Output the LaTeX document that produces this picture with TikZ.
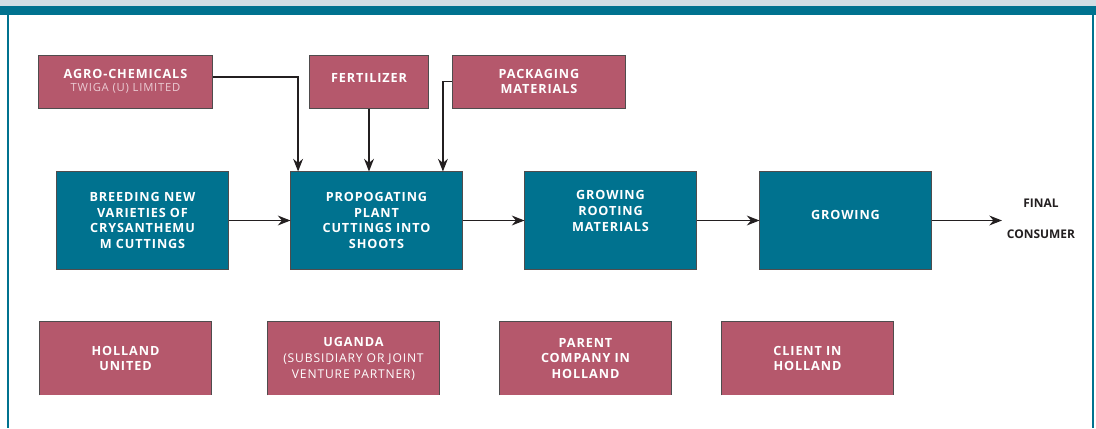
\documentclass[tikz,border=0pt]{standalone}
\usepackage{fontspec}
\setmainfont{Open Sans}
\newfontfamily\boxfont[LetterSpace=7]{Open Sans}
\usetikzlibrary{arrows.meta, positioning}
\definecolor{flowteal}{HTML}{00728F}
\definecolor{flowrose}{HTML}{B5586C}
\definecolor{flowpale}{HTML}{EBCBD3}
\definecolor{flowmist}{HTML}{D2DEE4}
\definecolor{flowink}{HTML}{231F20}
\newcommand{\subtext}{\mdseries\fontsize{8}{11.3}\selectfont}

\begin{document}
\begin{tikzpicture}[
  x=0.025cm, y=-0.025cm,
  every node/.style={font=\boxfont\bfseries\fontsize{9}{11.3}\selectfont},
  stage/.style={rectangle, draw=flowink!80, line width=0.7pt, fill=flowteal,
                text=white, minimum width=4.275cm, minimum height=2.425cm,
                align=center, inner sep=0pt},
  input/.style={rectangle, draw=flowink!80, line width=0.7pt, fill=flowrose,
                text=white, minimum height=1.325cm, align=center, inner sep=0pt},
  party/.style={rectangle, fill=flowrose,
                text=white, minimum width=4.275cm, minimum height=1.825cm,
                align=center, inner sep=0pt},
  rim/.style={draw=flowink!80, line width=0.7pt},
  arrow/.style={-{Stealth[length=9pt, width=7pt]}, line width=1pt, flowink}
]
  \useasboundingbox (0,0) rectangle (1096,428);

  % Frame: header band and side rules
  \fill[flowmist] (0,0) rectangle (1096,6);
  \fill[flowteal] (0,6) rectangle (1096,15);
  \draw[flowteal, line width=1pt] (8,15) -- (8,428);
  \draw[flowteal, line width=1pt] (1093,15) -- (1093,428);

  % Inputs (top row)
  \node[input, minimum width=4.325cm] (agro) at (125.5,81.5)
    {AGRO-CHEMICALS\\[-2pt]{\color{flowpale}\subtext TWIGA (U) LIMITED}};
  \node[input, minimum width=2.95cm] (fert) at (369,81.5)
    {FERTILIZER\\[-6pt]};
  \node[input, minimum width=4.3cm] (pack) at (539,81.5)
    {PACKAGING\\MATERIALS};

  % Main flow (left to right)
  \node[stage] (breed) at (142.5,220.5)
    {BREEDING NEW\\VARIETIES OF\\CRYSANTHEMU\\M CUTTINGS};
  \node[stage] (prop) at (376.5,220.5)
    {PROPOGATING\\PLANT\\CUTTINGS INTO\\SHOOTS};
  \node[stage] (root) at (610.5,220.5)
    {GROWING\\ROOTING\\MATERIALS\\[2pt]};
  \node[stage] (grow) at (845.5,220.5)
    {GROWING\\[-3.5pt]};
  \node[align=center, text=flowink, font=\bfseries\fontsize{8.5}{9}\selectfont]
    (consumer) at (1041,219) {FINAL\\[13pt]CONSUMER};

  % Parties (bottom row), open at the bottom edge
  \node[party] (holland) at (125.5,358.5) {HOLLAND\\UNITED};
  \node[party] (uganda) at (353.5,358.5)
    {UGANDA\\{\subtext\fontsize{8.6}{11.3}\selectfont(SUBSIDIARY OR JOINT}\\
     {\subtext\fontsize{8.6}{11.3}\selectfont VENTURE PARTNER)}};
  \node[party] (parent) at (585.5,358.5) {PARENT\\COMPANY IN\\HOLLAND};
  \node[party] (client) at (807.5,358.5) {CLIENT IN\\HOLLAND};
  \draw[rim] (holland.south west) |- (holland.north east) -- (holland.south east);
  \draw[rim] (uganda.south west) |- (uganda.north east) -- (uganda.south east);
  \draw[rim] (parent.south west) |- (parent.north east) -- (parent.south east);
  \draw[rim] (client.south west) |- (client.north east) -- (client.south east);

  % Arrows
  \draw[arrow] (breed) -- (prop);
  \draw[arrow] (prop) -- (root);
  \draw[arrow] (root) -- (grow);
  \draw[arrow] (grow.east) -- (grow.east -| consumer.west);
  \draw[arrow] ([yshift=3.2pt]agro.east) -| ([xshift=-1.96cm]prop.north);
  \draw[arrow] (fert.south) -- (fert.south |- prop.north);
  \draw[arrow] (pack.west) -| ([xshift=1.66cm]prop.north);
\end{tikzpicture}
\end{document}
